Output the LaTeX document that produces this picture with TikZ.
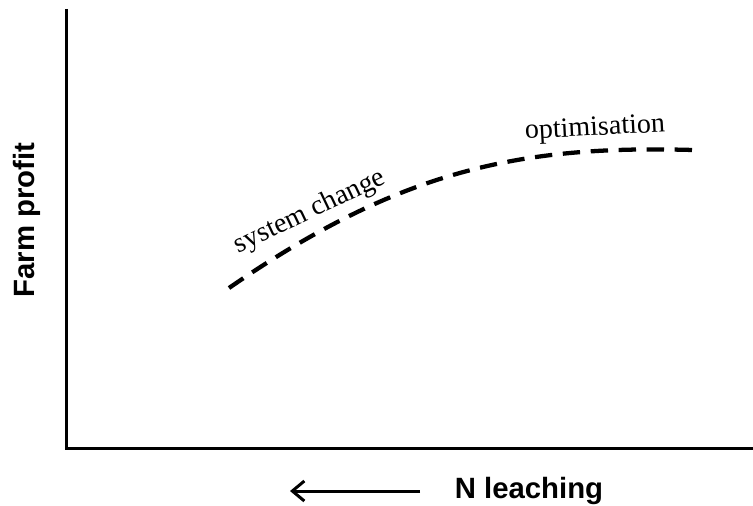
\documentclass[tikz,border=0pt]{standalone}
\usepackage{fontspec}
\setmainfont{Liberation Serif}
\setsansfont{Liberation Sans}
\usetikzlibrary{arrows.meta}
\begin{document}
\begin{tikzpicture}[
  x=0.75pt, y=-0.75pt,
  axis/.style={line width=2.25pt},
  curve/.style={line width=3.2pt, dash pattern=on 13pt off 8pt},
  axlabel/.style={font=\sffamily\bfseries\fontsize{22}{26}\selectfont, inner sep=0pt},
  note/.style={font=\fontsize{21}{25}\selectfont, inner sep=0pt},
]

% frame of the picture, in pixels of the reference
\useasboundingbox (0,0) rectangle (753,506);

% axes
\coordinate (origin) at (66,448);
\coordinate (ytop)   at (66,9);
\coordinate (xend)   at (753,448);
\draw[axis] (ytop) -- (origin) -- (xend);

% axis labels
\node[axlabel, rotate=90] (profit) at (27,220) {Farm profit};
\node[axlabel] (leach) at (529,491) {N leaching};

% direction arrow under the x axis
\coordinate (arrtail) at (420,491);
\coordinate (arrhead) at (290,491);
\draw[line width=2.25pt, -{Straight Barb[length=9pt, width=15pt]}] (arrtail) -- (arrhead);

% trade-off curve
\coordinate (cstart) at (229,288);
\coordinate (cend)   at (693,150);
\draw[curve] (cstart) .. controls (400,170) and (520,145) .. (cend);

% curve annotations
\node[note, rotate=25.5] (syschange) at (310,212) {system change};
\node[note, rotate=3] (optim) at (595,129) {optimisation};

\end{tikzpicture}
\end{document}
